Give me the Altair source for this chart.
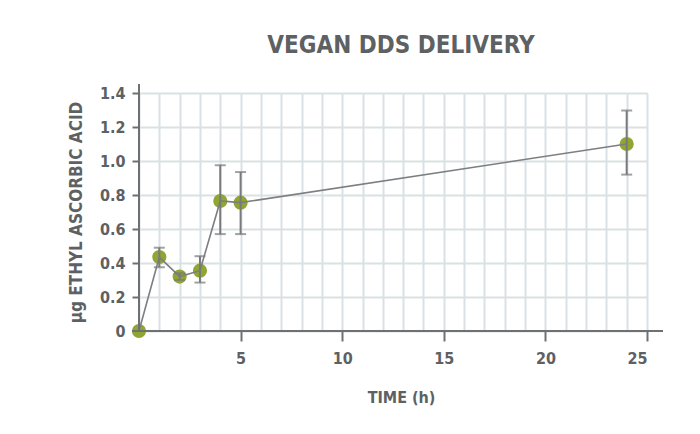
import altair as alt
import pandas as pd

time_h = [0, 1, 2, 3, 4, 5, 24]
mean_ug = [0.0, 0.435, 0.32, 0.355, 0.765, 0.755, 1.10]
err_lo = [0.0, 0.375, 0.30, 0.285, 0.57, 0.57, 0.92]
err_hi = [0.0, 0.49, 0.34, 0.44, 0.975, 0.935, 1.297]

x_grid = list(range(0, 26))
y_ticks = [0, 0.2, 0.4, 0.6, 0.8, 1.0, 1.2, 1.4]

df = pd.DataFrame({"t": time_h, "m": mean_ug, "lo": err_lo, "hi": err_hi})

FONT = "DejaVu Sans Condensed"
TXT = "#5d6163"
AX = "#6e7072"
GREEN = "#8fa632"
GRID = "#d9e1e4"
W, H = 508, 238

xs = alt.Scale(domain=[0, 25], nice=False, zero=True)
ys = alt.Scale(domain=[0, 1.4], nice=False)

xaxis = alt.Axis(
    values=x_grid, grid=True, domain=False, labelOverlap=False,
    gridColor=GRID, gridWidth=2,
    tickColor={"condition": {"test": "datum.value % 5 === 0 && datum.value > 0", "value": AX}, "value": "transparent"},
    tickSize=10, tickWidth=2,
    labelExpr="datum.value % 5 === 0 && datum.value > 0 ? datum.label : ''",
    labelFont=FONT, labelFontSize=16, labelFontWeight="bold", labelColor=TXT,
    labelPadding=9,
    title="TIME (h)", titleFont=FONT, titleFontSize=16, titleFontWeight="bold",
    titleColor=TXT, titlePadding=23, titleX=262,
)
yaxis = alt.Axis(
    values=y_ticks, grid=True, domain=False, labelOverlap=False,
    gridColor=GRID, gridWidth=2,
    tickColor=AX, tickSize=7, tickWidth=2,
    labelExpr="datum.value == 0 ? '0' : format(datum.value, '.1f')",
    labelFont=FONT, labelFontSize=16, labelFontWeight="bold", labelColor=TXT,
    labelPadding=7,
    title="\u00b5g ETHYL ASCORBIC ACID", titleFont=FONT, titleFontSize=17,
    titleFontWeight="bold", titleColor=TXT, titlePadding=14,
)

X = alt.X("t:Q", scale=xs, axis=xaxis)
Y_m = alt.Y("m:Q", scale=ys, axis=yaxis)
Y_lo = alt.Y("lo:Q", scale=ys, axis=yaxis)
Y_hi = alt.Y("hi:Q", scale=ys, axis=yaxis)

base = alt.Chart(df)

points = base.mark_point(filled=True, size=200, opacity=1, color=GREEN).encode(x=X, y=Y_m)
line = base.mark_line(color="#7c7e80", strokeWidth=1.6).encode(x=X, y=Y_m)
bars = base.mark_rule(color="#77797b", strokeWidth=2).encode(x=X, y=Y_lo, y2="hi:Q")
cap_lo = base.mark_tick(color="#77797b", orient="horizontal", size=11, thickness=2).encode(x=X, y=Y_lo)
cap_hi = base.mark_tick(color="#77797b", orient="horizontal", size=11, thickness=2).encode(x=X, y=Y_hi)
xline = base.mark_rule(color=AX, strokeWidth=2).encode(
    x=alt.value(-7), x2=alt.value(W + 16), y=alt.value(H)
)
yline = base.mark_rule(color=AX, strokeWidth=2).encode(
    x=alt.value(0), y=alt.value(-9), y2=alt.value(H)
)

chart = alt.layer(points, line, bars, cap_lo, cap_hi, xline, yline).properties(
    width=W, height=H,
    title=alt.TitleParams(
        "VEGAN DDS DELIVERY", font=FONT, fontSize=24, fontWeight="bold",
        color=TXT, anchor="middle", offset=25, dx=8,
    ),
    autosize=alt.AutoSizeParams(type="none"),
    padding={"left": 131, "top": 85, "right": 45, "bottom": 95},
).configure_view(stroke=None).configure(background="white")

chart.save("out.html", embed_options={"renderer": "svg", "actions": False})
